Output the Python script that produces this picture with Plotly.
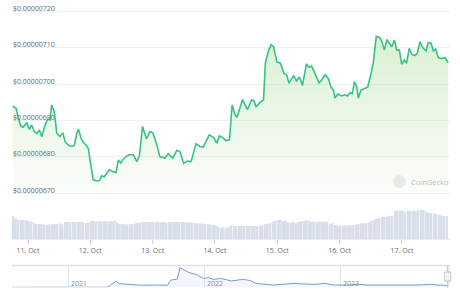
import pandas as pd
import plotly.graph_objects as go

W, H = 460, 298
BASE = pd.Timestamp("2023-10-11 00:00")

# ---- price series (hours from 11 Oct 00:00, price in 1e-8 USD) ----
hours = [-5.9, -4.6, -3.7, -2.8, -1.8, -0.5, 0.5, 1.4, 2.4, 3.4,
         4.4, 5.3, 6.6, 7.6, 8.5, 9.1, 10.1, 11.1, 12.3, 13.4,
         14.3, 15.5, 16.8, 17.8, 18.8, 19.4, 20.4, 21.3, 22.3, 23.2,
         25.1, 26.5, 27.5, 28.4, 29.3, 30.3, 31.3, 32.6, 33.9, 34.8,
         35.7, 36.7, 37.7, 39.0, 40.6, 41.9, 42.9, 44.1, 45.6, 47.0,
         48.1, 49.6, 50.8, 52.8, 54.0, 55.7, 57.3, 58.5, 59.9, 61.4,
         62.8, 64.7, 66.2, 67.5, 69.8, 71.4, 72.7, 73.7, 75.2, 76.2,
         77.6, 78.6, 79.7, 80.5, 82.6, 84.5, 86.1, 87.0, 87.8, 89.5,
         90.7, 91.4, 92.5, 93.6, 94.5, 95.9, 97.2, 98.6, 99.6, 100.5,
         102.3, 103.4, 104.5, 105.7, 107.2, 108.2, 109.2, 110.2, 112.1, 113.1,
         114.4, 115.6, 116.7, 117.6, 118.2, 119.3, 120.8, 122.1, 123.1, 124.0,
         124.9, 125.7, 126.6, 127.2, 128.2, 129.8, 130.8, 132.1, 133.0, 134.1,
         135.4, 136.3, 137.2, 138.2, 139.1, 140.1, 141.1, 142.0, 143.0, 143.9,
         144.9, 145.8, 146.8, 147.8, 149.0, 149.9, 150.9, 152.2, 153.3, 154.1,
         155.2, 156.1, 157.0, 158.0, 159.3, 160.6, 161.8]
price_e8 = [694.0, 693.4, 690.7, 688.5, 688.2, 689.5, 687.6, 688.8, 687.0, 686.5,
            687.4, 685.6, 688.8, 690.4, 690.2, 694.3, 692.5, 686.5, 685.6, 686.7,
            684.2, 683.3, 682.9, 683.1, 686.5, 687.7, 685.2, 684.0, 683.3, 682.4,
            673.7, 673.4, 673.5, 674.8, 674.5, 675.6, 676.5, 676.0, 675.7, 679.2,
            678.3, 679.4, 680.1, 680.6, 680.6, 678.7, 680.3, 688.4, 685.0, 687.0,
            686.6, 683.3, 680.1, 679.7, 680.9, 679.7, 681.8, 681.5, 678.3, 678.9,
            678.7, 683.6, 682.9, 682.7, 686.1, 685.4, 683.8, 685.8, 685.2, 684.5,
            684.7, 694.3, 691.6, 690.9, 695.8, 693.0, 695.7, 695.5, 693.8, 695.1,
            695.7, 705.8, 709.0, 710.9, 710.4, 706.1, 705.8, 702.9, 702.6, 700.3,
            702.4, 700.9, 702.0, 699.7, 705.6, 704.7, 705.0, 703.5, 700.4, 701.2,
            702.6, 701.7, 699.2, 698.4, 696.2, 697.3, 696.8, 697.1, 696.8, 697.7,
            697.5, 700.7, 699.3, 696.2, 698.4, 698.9, 699.2, 703.0, 706.1, 713.2,
            712.9, 711.7, 709.4, 712.3, 711.3, 710.3, 712.2, 709.4, 709.4, 705.5,
            706.7, 705.8, 709.9, 708.2, 707.9, 708.5, 711.7, 709.9, 709.2, 711.5,
            711.3, 709.2, 709.7, 707.3, 707.1, 707.3, 706.0]

# ---- hourly volume (relative units) ----
vol_start = "2023-10-10 18:20"
volumes = [70, 63, 58, 58, 58, 58, 55, 53, 50, 46, 46, 45,
           44, 44, 45, 45, 46, 47, 48, 45,
           52, 52, 52, 52, 52, 52, 52, 51, 48, 50,
           55, 55, 55, 55, 55, 55, 55, 54, 54, 55, 51,
           46, 46, 45, 45, 45, 46, 48, 50, 51, 53, 53,
           52, 52, 52, 51, 51, 51, 51, 51, 51, 51, 52, 52, 52, 52, 52, 51, 51, 50, 49, 48,
           48, 47, 46, 45, 44, 43, 42, 38, 35, 36, 33, 38, 42,
           40, 40, 40, 40, 40, 40, 40, 40, 40, 40, 41,
           42, 45, 47, 50, 53, 56, 58, 59, 55, 56, 52, 50, 52, 48, 52,
           54, 55, 57, 55, 53, 53, 53, 53, 53, 53, 53, 46, 48, 43,
           41, 41, 41, 42, 42, 42, 42, 43, 46, 48, 48, 50, 51, 55, 58, 62,
           64, 67, 68, 69, 70, 71, 85, 86, 86, 86, 83, 85, 86, 86, 84, 88,
           89, 88, 83, 80, 78, 77, 75, 74, 72, 70, 70]

# ---- navigator (full history) ----
nav_dates = ["2020-08-03", "2020-10-01", "2021-01-01", "2021-03-01", "2021-04-15",
             "2021-04-22", "2021-05-10", "2021-05-17", "2021-06-08", "2021-07-15",
             "2021-08-20", "2021-09-25", "2021-10-03", "2021-10-21", "2021-10-28",
             "2021-11-08", "2021-11-20", "2021-12-14", "2021-12-20", "2022-01-01",
             "2022-01-13", "2022-01-27", "2022-02-14", "2022-03-05", "2022-03-15",
             "2022-04-02", "2022-04-16", "2022-05-05", "2022-05-19", "2022-06-16",
             "2022-07-04", "2022-08-01", "2022-08-28", "2022-09-25", "2022-10-31",
             "2022-11-18", "2022-12-16", "2023-01-21", "2023-02-17", "2023-03-17",
             "2023-05-01", "2023-06-15", "2023-08-01", "2023-08-28", "2023-09-16",
             "2023-10-17"]
nav_prices = [1e-9, 1e-9, 2e-9, 5e-9, 2e-7,
              6.5e-6, 2.5e-5, 1.45e-5, 1.2e-5, 8.5e-6,
              9e-6, 8.5e-6, 2.9e-5, 3.35e-5, 7.9e-5,
              7.0e-5, 6.05e-5, 5.0e-5, 4.3e-5, 3.6e-5,
              3.9e-5, 3.2e-5, 3.6e-5, 2.95e-5, 2.55e-5,
              2.95e-5, 3.2e-5, 2.7e-5, 1.6e-5, 1.2e-5,
              9.3e-6, 1.2e-5, 1.6e-5, 1.33e-5, 1.2e-5,
              1.6e-5, 9.3e-6, 9.3e-6, 1.2e-5, 9.3e-6,
              9.3e-6, 6.5e-6, 9.3e-6, 1.2e-5, 9.3e-6,
              7.06e-6]

price_ticks_e8 = [670, 680, 690, 700, 710, 720]
price_tick_text = ["$0.00000670", "$0.00000680", "$0.00000690",
                   "$0.00000700", "$0.00000710", "$0.00000720"]
day_ticks = ["2023-10-11", "2023-10-12", "2023-10-13", "2023-10-14",
             "2023-10-15", "2023-10-16", "2023-10-17"]
day_tick_text = ["11. Oct", "12. Oct", "13. Oct", "14. Oct",
                 "15. Oct", "16. Oct", "17. Oct"]
year_ticks = ["2021-01-01", "2022-01-01", "2023-01-01"]
year_tick_text = ["2021", "2022", "2023"]

times = [BASE + pd.Timedelta(hours=h) for h in hours]
prices = [p * 1e-8 for p in price_e8]
price_ticks = [p * 1e-8 for p in price_ticks_e8]
vol_times = pd.date_range(vol_start, periods=len(volumes), freq="h")


def px(x):
    return x / W


def py(y):
    return 1 - y / H


FONT = "Open Sans, Roboto, sans-serif"
LINE_C = "rgb(52,195,135)"
LABEL_C = "#6b6b6b"

fig = go.Figure()
# baseline for the area fill (bottom gridline value)
fig.add_trace(go.Scatter(
    x=times, y=[price_ticks[0]] * len(times), mode="lines",
    line=dict(width=0, color="rgba(0,0,0,0)"),
    xaxis="x", yaxis="y", hoverinfo="skip"))
fig.add_trace(go.Scatter(
    x=times, y=prices, mode="lines",
    line=dict(color=LINE_C, width=1.6),
    fill="tonexty",
    fillgradient=dict(type="vertical",
                      colorscale=[[0, "rgba(150,210,120,0.04)"],
                                  [1, "rgba(130,205,100,0.30)"]],
                      start=price_ticks[0], stop=7.14e-6),
    xaxis="x", yaxis="y", hoverinfo="skip"))

fig.add_trace(go.Bar(
    x=vol_times, y=volumes, marker=dict(color="rgb(216,223,235)", line=dict(width=0)),
    xaxis="x", yaxis="y2", hoverinfo="skip"))

fig.add_trace(go.Scatter(
    x=nav_dates, y=nav_prices, mode="lines",
    line=dict(color="rgb(125,152,212)", width=1),
    fill="tozeroy", fillcolor="rgba(110,140,210,0.08)",
    xaxis="x3", yaxis="y3", hoverinfo="skip"))

x_start = BASE + pd.Timedelta(hours=-6.16)
x_end = BASE + pd.Timedelta(hours=162.5)

annotations = [
    dict(text=t, xref="paper", yref="y", x=px(11), y=v, yshift=3,
         xanchor="left", yanchor="middle", showarrow=False,
         font=dict(family=FONT, size=7, color=LABEL_C))
    for v, t in zip(price_ticks, price_tick_text)
]
annotations += [
    dict(text=t, xref="x3", yref="paper", x=d, y=py(283.8), xshift=1,
         xanchor="left", yanchor="middle", showarrow=False,
         font=dict(family=FONT, size=7, color="#8c8c8c"))
    for d, t in zip(year_ticks, year_tick_text)
]
annotations.append(
    dict(text="CoinGecko", xref="paper", yref="paper", x=px(408.5), y=py(182.3),
         xanchor="left", yanchor="middle", showarrow=False,
         font=dict(family=FONT, size=7.5, color="#b9b9b9")))

fig.update_layout(
    width=W, height=H, margin=dict(l=0, r=0, t=0, b=0),
    paper_bgcolor="white", plot_bgcolor="white",
    showlegend=False, bargap=0.25,
    font=dict(family=FONT, size=7, color=LABEL_C),
    xaxis=dict(domain=[px(12), px(450)], range=[x_start, x_end], anchor="y2",
               type="date", tickvals=day_ticks, ticktext=day_tick_text,
               ticks="outside", ticklen=4, tickcolor="#ccd6eb",
               showgrid=False, showline=True, linecolor="#e9edf3", linewidth=1,
               zeroline=False, tickfont=dict(size=7, color=LABEL_C)),
    yaxis=dict(domain=[py(202.4), py(2.5)], range=[6.675e-6, 7.225e-6],
               anchor="x", tickvals=price_ticks, showticklabels=False, ticks="",
               showgrid=True, gridcolor="#f0f0f0", gridwidth=1,
               zeroline=False, showline=False),
    yaxis2=dict(domain=[py(239.3), py(205)], range=[0, 103], anchor="x",
                showgrid=False, showticklabels=False, zeroline=False, showline=False),
    xaxis3=dict(domain=[px(12), px(450)], range=["2020-08-03", "2023-10-23"],
                anchor="y3", type="date", tickvals=year_ticks, showticklabels=False,
                ticks="", showgrid=True, gridcolor="#e6e6e6", gridwidth=1,
                showline=False, zeroline=False),
    yaxis3=dict(domain=[py(287.3), py(265)], range=[0, 9.0e-5], anchor="x3",
                showgrid=False, showticklabels=False, zeroline=False, showline=False),
    shapes=[
        dict(type="line", xref="paper", yref="paper", x0=px(12), x1=px(450),
             y0=py(265.5), y1=py(265.5), line=dict(color="#e2e2e2", width=1.5)),
        dict(type="rect", xref="paper", yref="paper", x0=px(446.5), x1=px(450),
             y0=py(287.5), y1=py(265.5), fillcolor="rgba(102,133,194,0.15)",
             line=dict(width=0)),
        dict(type="line", xref="paper", yref="paper", x0=px(447.5), x1=px(447.5),
             y0=py(288), y1=py(265.5), line=dict(color="#c8ccd6", width=1)),
        dict(type="rect", xref="paper", yref="paper", x0=px(444.3), x1=px(450.7),
             y0=py(281), y1=py(272), fillcolor="#f2f2f2",
             line=dict(color="#bbbbbb", width=0.8)),
        dict(type="circle", xref="paper", yref="paper", x0=px(393), x1=px(406),
             y0=py(188), y1=py(175), fillcolor="#e9e9e9", line=dict(width=0)),
    ],
    annotations=annotations,
)

fig.write_html("out.html")
